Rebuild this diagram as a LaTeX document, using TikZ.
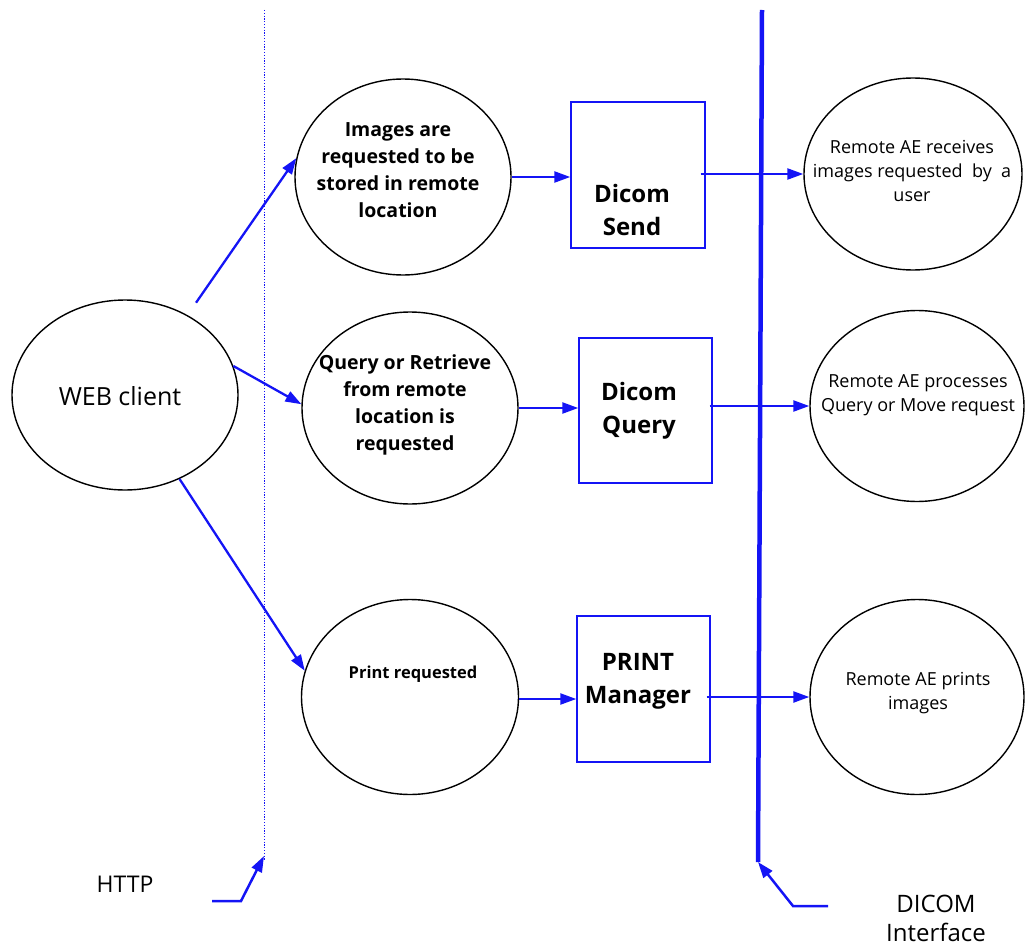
\documentclass[tikz,border=0pt]{standalone}
\usepackage{fontspec}
\setmainfont{Open Sans}
\usetikzlibrary{arrows.meta,shapes.geometric}
\definecolor{lineblue}{RGB}{20,20,245}
\tikzset{
  bubble/.style={draw=black,line width=1.4pt,ellipse,inner sep=0pt},
  procbox/.style={draw=lineblue,line width=1.4pt,rectangle,inner sep=0pt},
  flow/.style={draw=lineblue,line width=2.3pt,-{Triangle[length=16pt,width=11pt]}},
  boldtxt/.style={font=\fontsize{19.5}{27}\selectfont\bfseries,align=center},
  boxtxt/.style={font=\fontsize{24}{33}\selectfont\bfseries,align=center},
  plaintxt/.style={font=\fontsize{18}{24}\selectfont,align=center},
  labeltxt/.style={font=\fontsize{23}{30}\selectfont,align=center},
}
\begin{document}
\begin{tikzpicture}[x=1pt,y=-1pt]
\useasboundingbox (0,0) rectangle (1025,947);
% interface lines
\coordinate (htop) at (264,10);
\coordinate (hbot) at (264,860);
\coordinate (dtop) at (762,10);
\coordinate (dbot) at (758,862);
\draw[lineblue,line width=1pt,dash pattern=on 1.2pt off 1.6pt] (htop) -- (hbot);
\draw[lineblue,line width=4.5pt] (dtop) -- (dbot);

% nodes
\node[bubble,minimum width=226pt,minimum height=190pt] (web) at (125,395) {};
\node[labeltxt,font=\fontsize{25}{30}\selectfont] (webt) at (120,396) {WEB client};

\node[bubble,minimum width=216pt,minimum height=196pt] (e1) at (403,177) {};
\node[boldtxt] (e1t) at (398,170) {Images are\\requested to be\\stored in remote\\location};
\node[bubble,minimum width=216pt,minimum height=192pt] (e2) at (410,408) {};
\node[boldtxt] (e2t) at (405,405) {Query or Retrieve\\from remote\\location is\\requested};
\node[bubble,minimum width=217pt,minimum height=195pt] (e3) at (410,697) {};
\node[boldtxt,font=\fontsize{16.5}{24}\selectfont\bfseries] (e3t) at (413,674) {Print requested};

\node[procbox,minimum width=134pt,minimum height=146pt] (b1) at (638,175) {};
\node[boxtxt] (b1t) at (632,210) {Dicom\\Send};
\node[procbox,minimum width=133pt,minimum height=145pt] (b2) at (645.5,410.5) {};
\node[boxtxt] (b2t) at (639,411) {Dicom\\Query};
\node[procbox,minimum width=133pt,minimum height=146pt] (b3) at (643.5,689) {};
\node[boxtxt] (b3t) at (638,681) {PRINT\\Manager};

\node[bubble,minimum width=218pt,minimum height=192pt] (r1) at (913,174) {};
\node[plaintxt] (r1t) at (912,171) {Remote AE receives\\images requested\ \ by\ \ a\\user};
\node[bubble,minimum width=214pt,minimum height=191pt] (r2) at (917,406) {};
\node[plaintxt] (r2t) at (918,395) {Remote AE processes\\Query or Move request};
\node[bubble,minimum width=214pt,minimum height=195pt] (r3) at (917,697) {};
\node[plaintxt] (r3t) at (918,693) {Remote AE prints\\images};

% connectors
\draw[flow,shorten <=15pt] (web.52) -- (e1.170);
\draw[flow] (web.15) -- (e2.178);
\draw[flow] (web.-57) -- (e3.166);
\draw[flow] (e1.east) -- (e1.east -| b1.west);
\draw[flow] (e2.east) -- (e2.east -| b2.west);
\draw[flow] ([yshift=-2pt]e3.east) -- ([yshift=-2pt]e3.east -| b3.west);
\draw[flow] ([xshift=-5pt]b1.east |- r1.west) -- (r1.west);
\draw[flow] ([xshift=-3pt]b2.east |- r2.west) -- (r2.west);
\draw[flow] ([xshift=-4pt]b3.east |- r3.west) -- (r3.west);

% labels and pointers
\node[labeltxt] (http) at (125,884) {HTTP};
\node[labeltxt,font=\fontsize{24}{29}\selectfont,inner sep=1pt] (dicom) at (936,918) {DICOM\\Interface};
\coordinate (hp) at (212,901);
\coordinate (dp) at (828,906);
\draw[flow,line width=2.5pt] (hp) -- ++(29,0) -- ([yshift=4pt]hbot);
\draw[flow,line width=2.5pt] (dp) -- ++(-35,0) -- (dbot);
\end{tikzpicture}
\end{document}
